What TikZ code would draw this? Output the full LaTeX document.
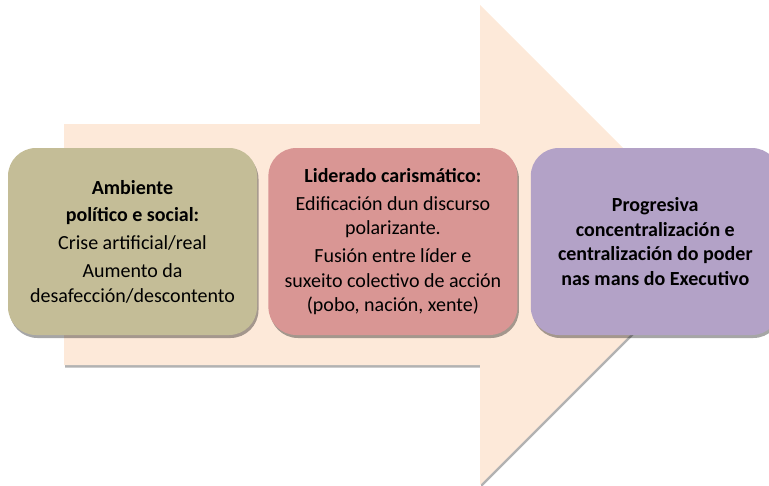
\documentclass[tikz,border=0pt]{standalone}
\usepackage{fontspec}
\setmainfont{Carlito}
\usepackage{tikz}
\usetikzlibrary{positioning,shadows}
\definecolor{arrowpeach}{HTML}{FDE9D9}
\definecolor{stagetan}{HTML}{C4BD97}
\definecolor{stagerose}{HTML}{D99694}
\definecolor{stagelilac}{HTML}{B3A2C7}
\begin{document}
\begin{tikzpicture}[x=1pt, y=-1pt, node distance=12pt,
    stage/.style={rectangle, rounded corners=28pt, minimum width=249pt, minimum height=187pt,
      inner sep=0pt, align=center, font=\fontsize{20}{24.5}\selectfont,
      drop shadow={shadow xshift=1.5pt, shadow yshift=-3pt, opacity=0.35, fill=black}}]
    \useasboundingbox (0,0) rectangle (769,485);
    % Background arrow
    \fill [arrowpeach, drop shadow={shadow xshift=1pt, shadow yshift=-2.5pt, opacity=0.3, fill=black}]
      (64,124) -- (480,124) -- (480,5) -- (720,245) -- (480,485) -- (480,365) -- (64,365) -- cycle;
    % Nodes
    \node [stage, fill=stagetan] (ambiente) at (132.5,241.5)
      {\textbf{Ambiente}\\[3pt] \textbf{político e social:}\\[3.5pt] Crise artificial/real\\[3.5pt]
       Aumento da\\ desafección/descontento};
    \node [stage, fill=stagerose, right=11pt of ambiente] (liderado)
      {\textbf{Liderado carismático:}\\[3.5pt] Edificación dun discurso\\ polarizante.\\[3.5pt]
       Fusión entre líder e\\ suxeito colectivo de acción\\ (pobo, nación, xente)};
    \node [stage, fill=stagelilac, right=13pt of liderado] (executivo)
      {\textbf{Progresiva}\\ \textbf{concentralización e}\\ \textbf{centralización do poder}\\
       \textbf{nas mans do Executivo}};
\end{tikzpicture}
\end{document}
